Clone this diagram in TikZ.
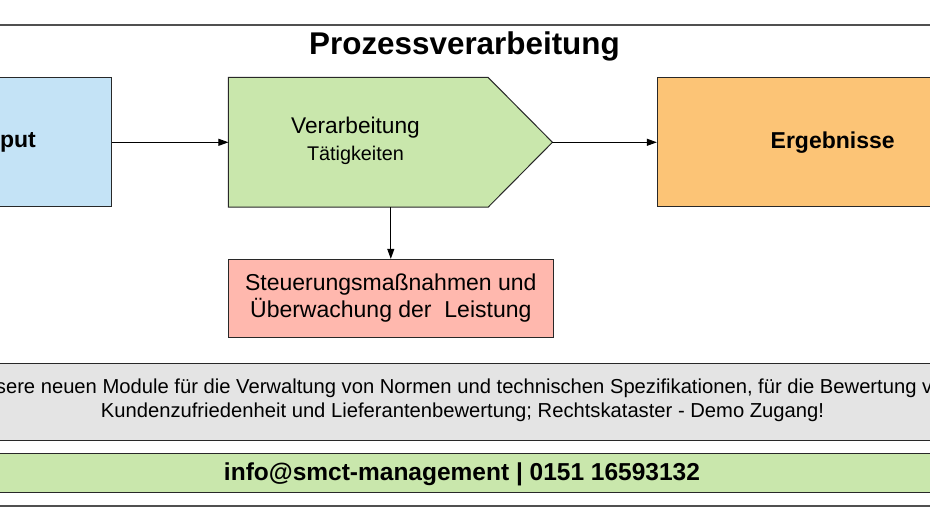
\documentclass[tikz,border=0pt]{standalone}
\usepackage{fontspec}
\setmainfont{Liberation Sans}
\usetikzlibrary{arrows.meta,calc}
\definecolor{inblue}{RGB}{196,227,246}
\definecolor{procgreen}{RGB}{201,231,172}
\definecolor{resorange}{RGB}{252,196,118}
\definecolor{ctrlred}{RGB}{255,184,174}
\definecolor{bargray}{RGB}{228,228,228}
\definecolor{edge}{RGB}{40,40,40}
\definecolor{rule}{RGB}{80,80,80}
\tikzset{
  box/.style={draw=edge, line width=1pt, inner sep=0pt, align=center},
  conn/.style={draw=black, line width=1pt, -{Triangle[length=10pt,width=7pt]}},
  frameline/.style={draw=rule, line width=1.5pt},
}
\begin{document}
\begin{tikzpicture}[x=1pt,y=-1pt]
\useasboundingbox (0,0) rectangle (930,532);
\clip (0,0) rectangle (930,532);
\fill[white] (0,0) rectangle (930,532);
% top rule
\coordinate (tl) at (-10,25);
\coordinate (tr) at (940,25);
\draw[frameline] (tl) -- (tr);
% title
\node[anchor=base, font=\fontsize{31.4}{36}\selectfont\bfseries] (title) at (464.5,54.5) {Prozessverarbeitung};
% input
\node[box, fill=inblue, minimum width=208pt, minimum height=129.3pt,
      font=\fontsize{23}{27}\selectfont\bfseries] (inp) at (7.7,142.3) {Input};
% processing (rectangle part + pointer)
\node[inner sep=0pt, minimum width=259.3pt, minimum height=129.3pt] (proc) at (358.3,142.3) {};
\coordinate (tip) at ($(proc.east)+(64.3,0)$);
\filldraw[fill=procgreen, draw=edge, line width=1pt]
  (proc.north west) -- (proc.north east) -- (tip) -- (proc.south east) -- (proc.south west) -- cycle;
\node[align=center, font=\fontsize{22.7}{27}\selectfont] (proctext) at ($(proc.center)+(-2.8,-1)$)
  {Verarbeitung\\{\fontsize{19.8}{27}\selectfont Tätigkeiten}};
% results
\node[box, fill=resorange, minimum width=350.7pt, minimum height=129.3pt,
      font=\fontsize{23}{27}\selectfont\bfseries] (res) at (832.7,142.3) {Ergebnisse};
% control
\node[box, fill=ctrlred, minimum width=325pt, minimum height=77.7pt,
      font=\fontsize{23}{27}\selectfont] (ctrl) at (390.8,298.2)
  {Steuerungsmaßnahmen und\\Überwachung der\ \ Leistung};
% connectors
\draw[conn] (inp.east) -- (proc.west);
\draw[conn] (tip) -- (res.west);
\coordinate (down) at (ctrl.north |- proc.south);
\draw[conn] (down) -- (ctrl.north);
% gray bar
\node[box, fill=bargray, minimum width=960pt, minimum height=77.7pt] (graybar) at (465,401.9) {};
\node[align=center, font=\fontsize{20.2}{24}\selectfont] (graytext) at (462.5,400)
  {Unsere neuen Module für die Verwaltung von Normen und technischen Spezifikationen, für die Bewertung von\\Kundenzufriedenheit und Lieferantenbewertung; Rechtskataster - Demo Zugang!};
% green bar
\node[box, fill=procgreen, minimum width=960pt, minimum height=38.7pt] (greenbar) at (465,473.3) {};
\node[font=\fontsize{24.5}{29}\selectfont\bfseries] (contact) at (462,474)
  {info@smct-management | 0151 16593132};
% bottom rule
\coordinate (bl) at (-10,506);
\coordinate (br) at (940,506);
\draw[frameline] (bl) -- (br);
\end{tikzpicture}
\end{document}
